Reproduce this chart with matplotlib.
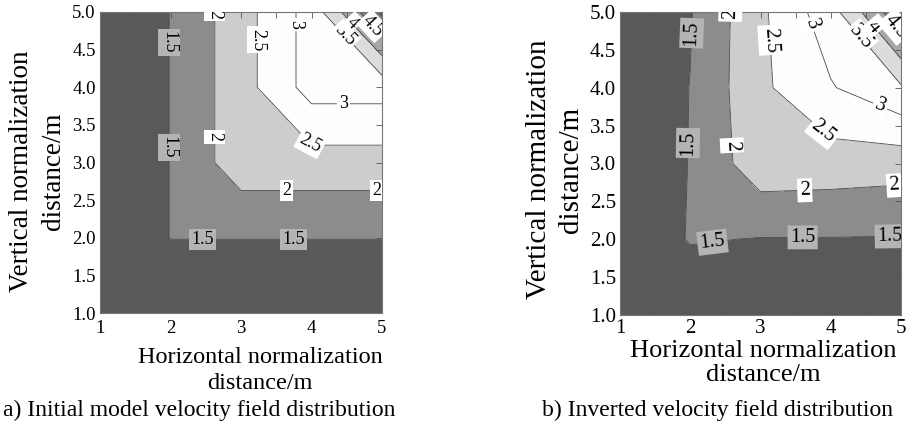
import matplotlib
matplotlib.use("Agg")
import matplotlib.pyplot as plt
import numpy as np

plt.rcParams['font.family'] = ['Liberation Serif', 'DejaVu Serif']

# ---- data ----
x_coords = [1, 2, 3, 4, 5]
y_coords = [1, 2, 3, 4, 5]
# rows: y = 1..5, columns: x = 1..5
initial_velocity = [
    [1.00, 1.00, 1.00, 1.00, 1.00],
    [1.00, 1.51, 1.51, 1.51, 1.51],
    [1.00, 1.51, 2.29, 2.29, 2.29],
    [1.00, 1.51, 2.29, 3.20, 3.20],
    [1.00, 1.51, 2.29, 3.20, 5.10],
]
inverted_velocity = [
    [1.00, 1.00, 1.00, 1.00, 1.00],
    [1.00, 1.54, 1.48, 1.48, 1.47],
    [1.00, 1.52, 2.31, 2.27, 2.21],
    [1.00, 1.51, 2.40, 2.96, 3.44],
    [1.00, 1.47, 2.40, 3.30, 4.90],
]
fill_levels = [1.0, 1.5, 2.0, 2.5, 3.0, 3.5, 4.0, 4.5, 5.0, 5.5]
line_levels = [1.5, 2.0, 2.5, 3.0, 3.5, 4.0, 4.5, 5.0]
label_levels = [1.5, 2.0, 2.5, 3.0, 3.5, 4.0, 4.5]
x_ticks = [1, 2, 3, 4, 5]
y_ticks = [1.0, 1.5, 2.0, 2.5, 3.0, 3.5, 4.0, 4.5, 5.0]
x_label = "Horizontal normalization\ndistance/m"
y_label = "Vertical normalization\ndistance/m"
caption_a = "a) Initial model velocity field distribution"
caption_b = "b) Inverted velocity field distribution"

band_colors = ['#595959', '#8c8c8c', '#cdcdcd', '#fdfdfd', '#fdfdfd',
               '#dcdcdc', '#a8a8a8', '#7d7d7d', '#5e5e5e']

labels_a = [(2.0, 4.6), (2.0, 3.2), (2.45, 2.0), (3.75, 2.0),
            (2.62, 4.97), (2.63, 3.34), (3.65, 2.62), (4.93, 2.62),
            (3.23, 4.63), (3.98, 3.25),
            (3.78, 4.83), (4.45, 3.78),
            (4.45, 4.67), (4.59, 4.87), (4.86, 4.8)]
labels_b = [(2.05, 4.72), (1.97, 3.27), (2.32, 1.93), (3.6, 2.02), (4.84, 2.03),
            (2.58, 4.97), (2.6, 3.24), (3.63, 2.65), (4.9, 2.7),
            (3.13, 4.63), (3.9, 3.43),
            (3.72, 4.83), (4.7, 3.75),
            (4.42, 4.67), (4.59, 4.79), (4.87, 4.76)]

fig = plt.figure(figsize=(9.08, 4.26), dpi=100)
ax_a = fig.add_axes([100/908, 1-313/426, 282/908, 301/426])
ax_b = fig.add_axes([620/908, 1-315/426, 281/908, 303/426])


def draw(ax, Z, label_pos, tick_fs, clabel_fs, xl_fs, yl_fs, xl_pos, yl_pos,
         xl_ls, yl_ls, xpad):
    X, Y = np.meshgrid(x_coords, y_coords)
    Z = np.array(Z)
    ax.contourf(X, Y, Z, levels=fill_levels, colors=band_colors)
    cs = ax.contour(X, Y, Z, levels=line_levels, colors='#4a4a4a', linewidths=0.6)
    txts = ax.clabel(cs, levels=label_levels, manual=label_pos, inline=True,
                     inline_spacing=2, fontsize=clabel_fs, fmt='%g', colors='k')
    for t in txts:
        fc = '#b4b4b4' if t.get_text() == '1.5' else 'white'
        t.set_bbox(dict(boxstyle='square,pad=0.12', fc=fc, ec='none'))
        t.set_clip_on(True)
        t.set_clip_path(ax.patch)
    ax.set_xlim(1, 5)
    ax.set_ylim(1, 5)
    ax.set_xticks(x_ticks)
    ax.set_xticks([1.5, 2.5, 3.5, 4.5], minor=True)
    ax.set_yticks(y_ticks)
    ax.set_yticklabels([f"{v:.1f}" for v in y_ticks])
    ax.tick_params(which='both', direction='in', top=True, right=True,
                   length=4, width=0.6, color='#555555', labelsize=tick_fs, pad=3)
    ax.tick_params(axis='x', pad=xpad)
    for s in ax.spines.values():
        s.set_color('#777777')
        s.set_linewidth(0.8)
    ax.set_xlabel(x_label, fontsize=xl_fs, linespacing=xl_ls)
    ax.xaxis.set_label_coords(*xl_pos)
    ax.set_ylabel(y_label, fontsize=yl_fs, linespacing=yl_ls)
    ax.yaxis.label.set(ha='center', va='center', rotation_mode='default')
    ax.yaxis.set_label_coords(*yl_pos)


draw(ax_a, initial_velocity, labels_a, 13.5, 13, 17.5, 19.5,
     (0.567, -0.112), (-0.222, 0.47), 1.3, 1.4, 5)
draw(ax_b, inverted_velocity, labels_b, 15, 14.5, 19, 21,
     (0.509, -0.083), (-0.23, 0.48), 1.12, 1.3, 3)

fig.text(199/908, 10/426, caption_a, ha='center', va='baseline', fontsize=17)
fig.text(717/908, 10/426, caption_b, ha='center', va='baseline', fontsize=17)

fig.savefig("out.png", dpi=100, facecolor='white')
